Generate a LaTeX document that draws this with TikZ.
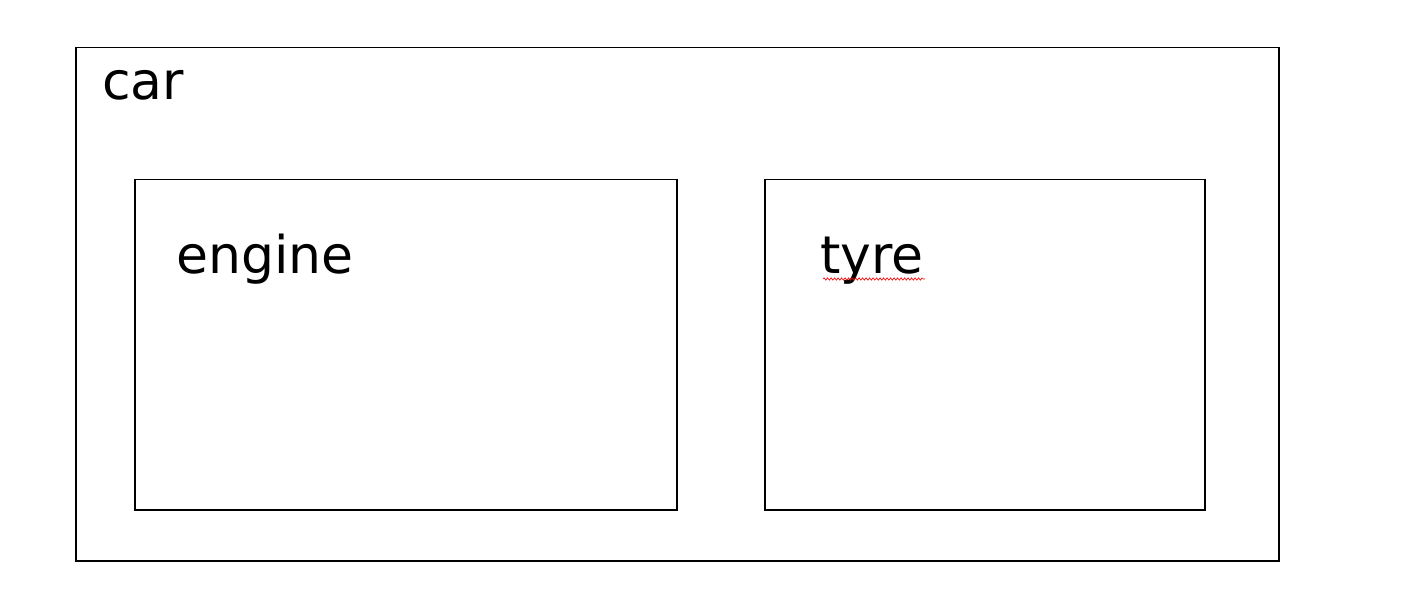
\documentclass[tikz,border=0pt]{standalone}
\usepackage{fontspec}
\setmainfont{DejaVu Sans}
\usetikzlibrary{decorations.pathmorphing}
\begin{document}
\begin{tikzpicture}[x=1pt,y=-1pt,
  box/.style={draw=black, line width=1.5pt, rectangle, inner sep=0pt, anchor=north west},
  lbl/.style={anchor=base west, inner sep=0pt, font=\fontsize{52}{60}\selectfont}]
\useasboundingbox (0,0) rectangle (1405,596);
\fill[white] (0,0) rectangle (1405,596);
\node[box, minimum width=1203pt, minimum height=513pt] (car) at (75,47) {};
\node[box, minimum width=542pt, minimum height=330pt] (engine) at (134,179) {};
\node[box, minimum width=440pt, minimum height=330pt] (tyre) at (764,179) {};
\node[lbl] (carlbl) at (102,100) {car};
\node[lbl] (enginelbl) at (176,273) {engine};
\node[lbl] (tyrelbl) at (820,273) {tyre};
\coordinate (sqA) at ([xshift=3pt,yshift=-6pt]tyrelbl.base west);
\coordinate (sqB) at ([xshift=1pt,yshift=-6pt]tyrelbl.base east);
\draw[red, line width=0.6pt, decorate, decoration={snake, amplitude=1.2pt, segment length=3.5pt}] (sqA) -- (sqB);
\end{tikzpicture}
\end{document}
